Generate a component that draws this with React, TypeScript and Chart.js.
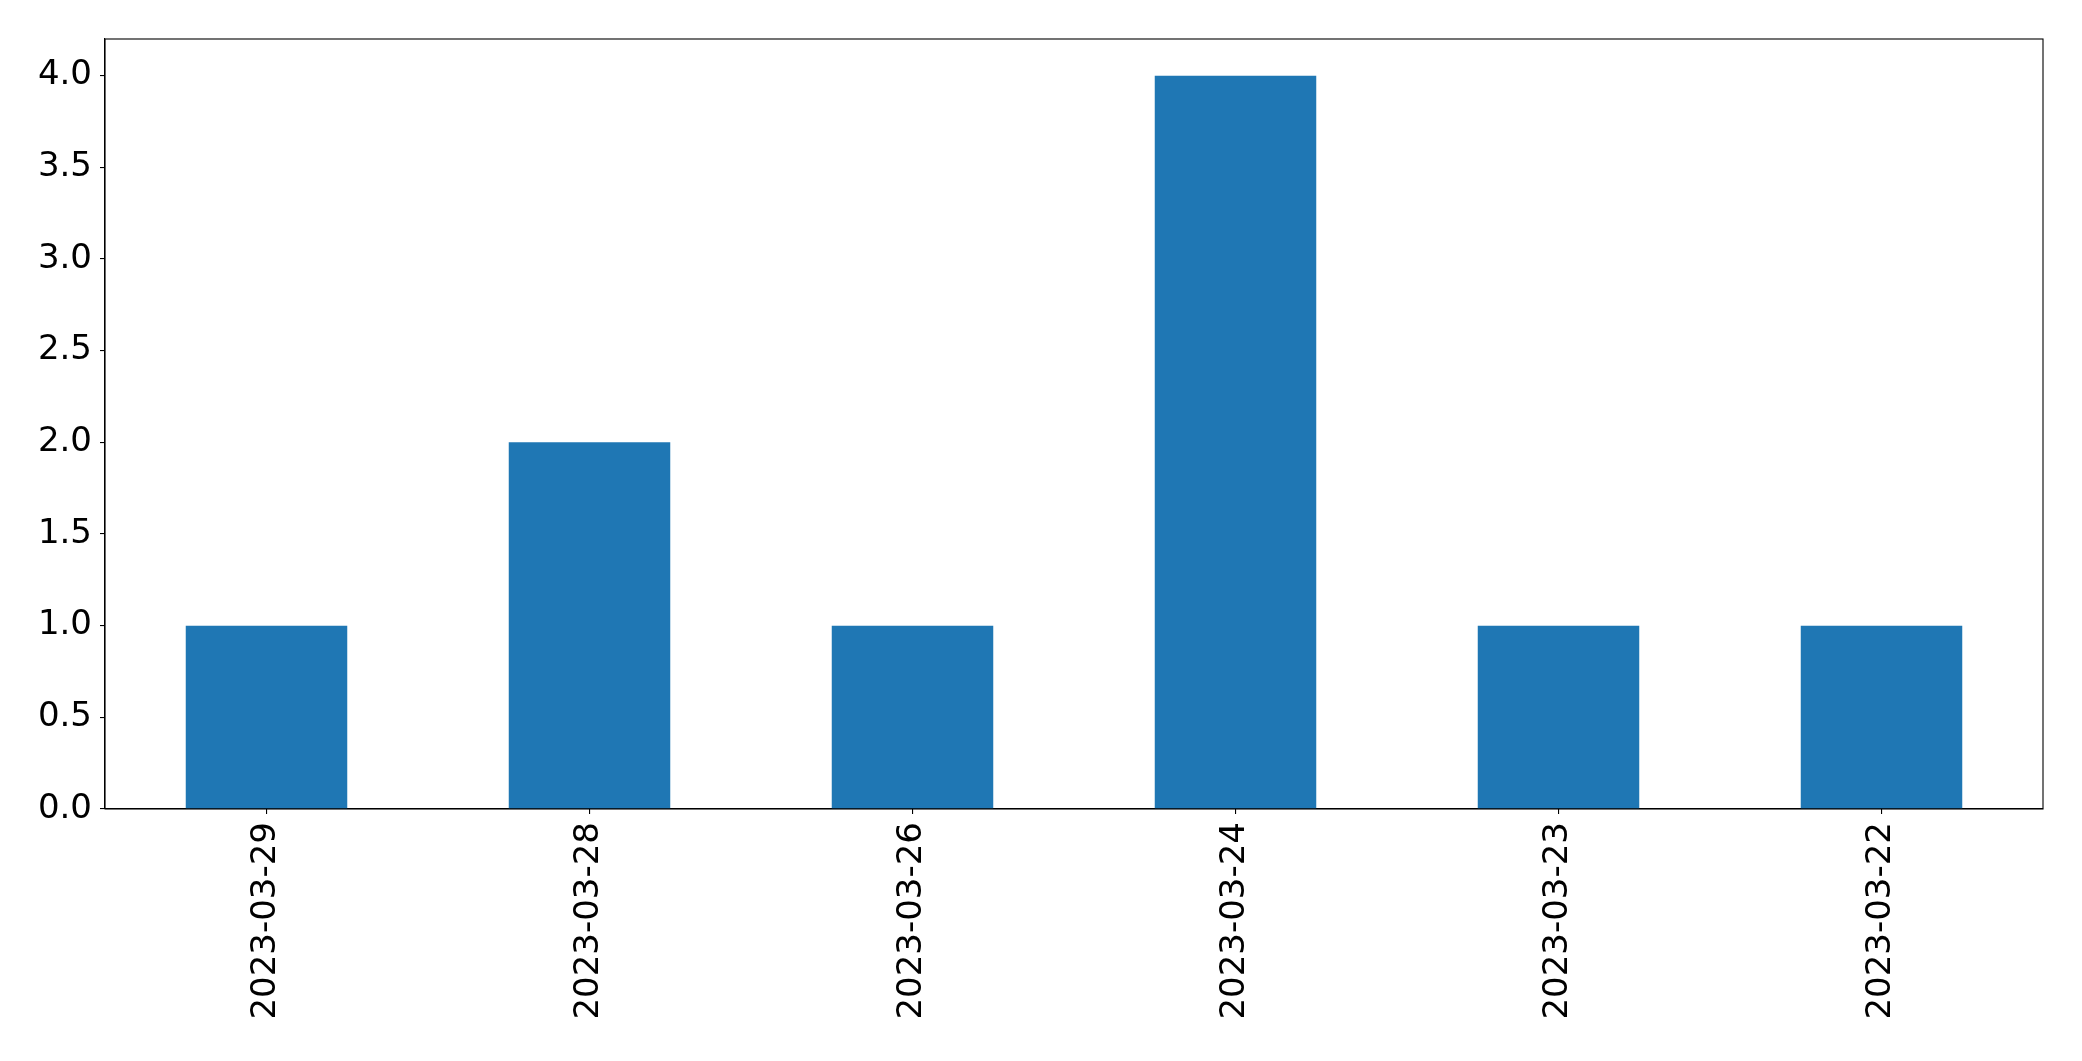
import React, { useEffect, useRef } from "react";
import { Chart, registerables } from "chart.js";

Chart.register(...registerables);

const categories = ["2023-03-29", "2023-03-28", "2023-03-26", "2023-03-24", "2023-03-23", "2023-03-22"];
const counts = [1, 2, 1, 4, 1, 1];
const yTickValues = [0, 0.5, 1, 1.5, 2, 2.5, 3, 3.5, 4];

const W = 2082;
const H = 1061;

const frame = {
  id: "frame",
  afterDraw(chart: any) {
    const { ctx, chartArea } = chart;
    ctx.save();
    ctx.strokeStyle = "#000";
    ctx.lineWidth = 1.1;
    ctx.strokeRect(chartArea.left, chartArea.top, chartArea.right - chartArea.left, chartArea.bottom - chartArea.top);
    ctx.restore();
  },
};

export default function App() {
  const ref = useRef<HTMLCanvasElement>(null);
  useEffect(() => {
    if (!ref.current) return;
    const font = { family: "'DejaVu Sans'", size: 34 };
    const chart = new Chart(ref.current, {
      type: "bar",
      data: {
        labels: categories,
        datasets: [
          {
            data: counts,
            backgroundColor: "#1f77b4",
            borderWidth: 0,
            categoryPercentage: 1,
            barPercentage: 0.5,
          },
        ],
      },
      plugins: [frame],
      options: {
        responsive: false,
        animation: false,
        devicePixelRatio: 1,
        layout: { padding: { top: 39, right: 39, left: 0, bottom: 0 } },
        plugins: { legend: { display: false }, tooltip: { enabled: false } },
        scales: {
          x: {
            grid: { display: true, offset: false, drawOnChartArea: false, drawTicks: true, tickLength: 5, color: "#000", lineWidth: 1.1 },
            border: { display: true, color: "#000", width: 1.1 },
            ticks: { font, color: "#000", minRotation: 90, maxRotation: 90, padding: 8, autoSkip: false },
            afterFit: (s: any) => {
              s.height = H - 809;
            },
          },
          y: {
            min: 0,
            max: 4.2,
            grid: { display: true, drawOnChartArea: false, drawTicks: true, tickLength: 5, color: "#000", lineWidth: 1.1 },
            border: { display: true, color: "#000", width: 1.1 },
            ticks: {
              font,
              color: "#000",
              padding: 8,
              callback: (v: any) => Number(v).toFixed(1),
            },
            afterBuildTicks: (s: any) => {
              s.ticks = yTickValues.map((v) => ({ value: v }));
            },
            afterFit: (s: any) => {
              s.width = 105;
            },
          },
        },
      },
    } as any);
    return () => chart.destroy();
  }, []);
  return (
    <div style={{ position: "fixed", left: 0, top: 0, width: W, height: H, background: "#fff" }}>
      <canvas ref={ref} width={W} height={H} style={{ width: W, height: H, display: "block" }} />
    </div>
  );
}
